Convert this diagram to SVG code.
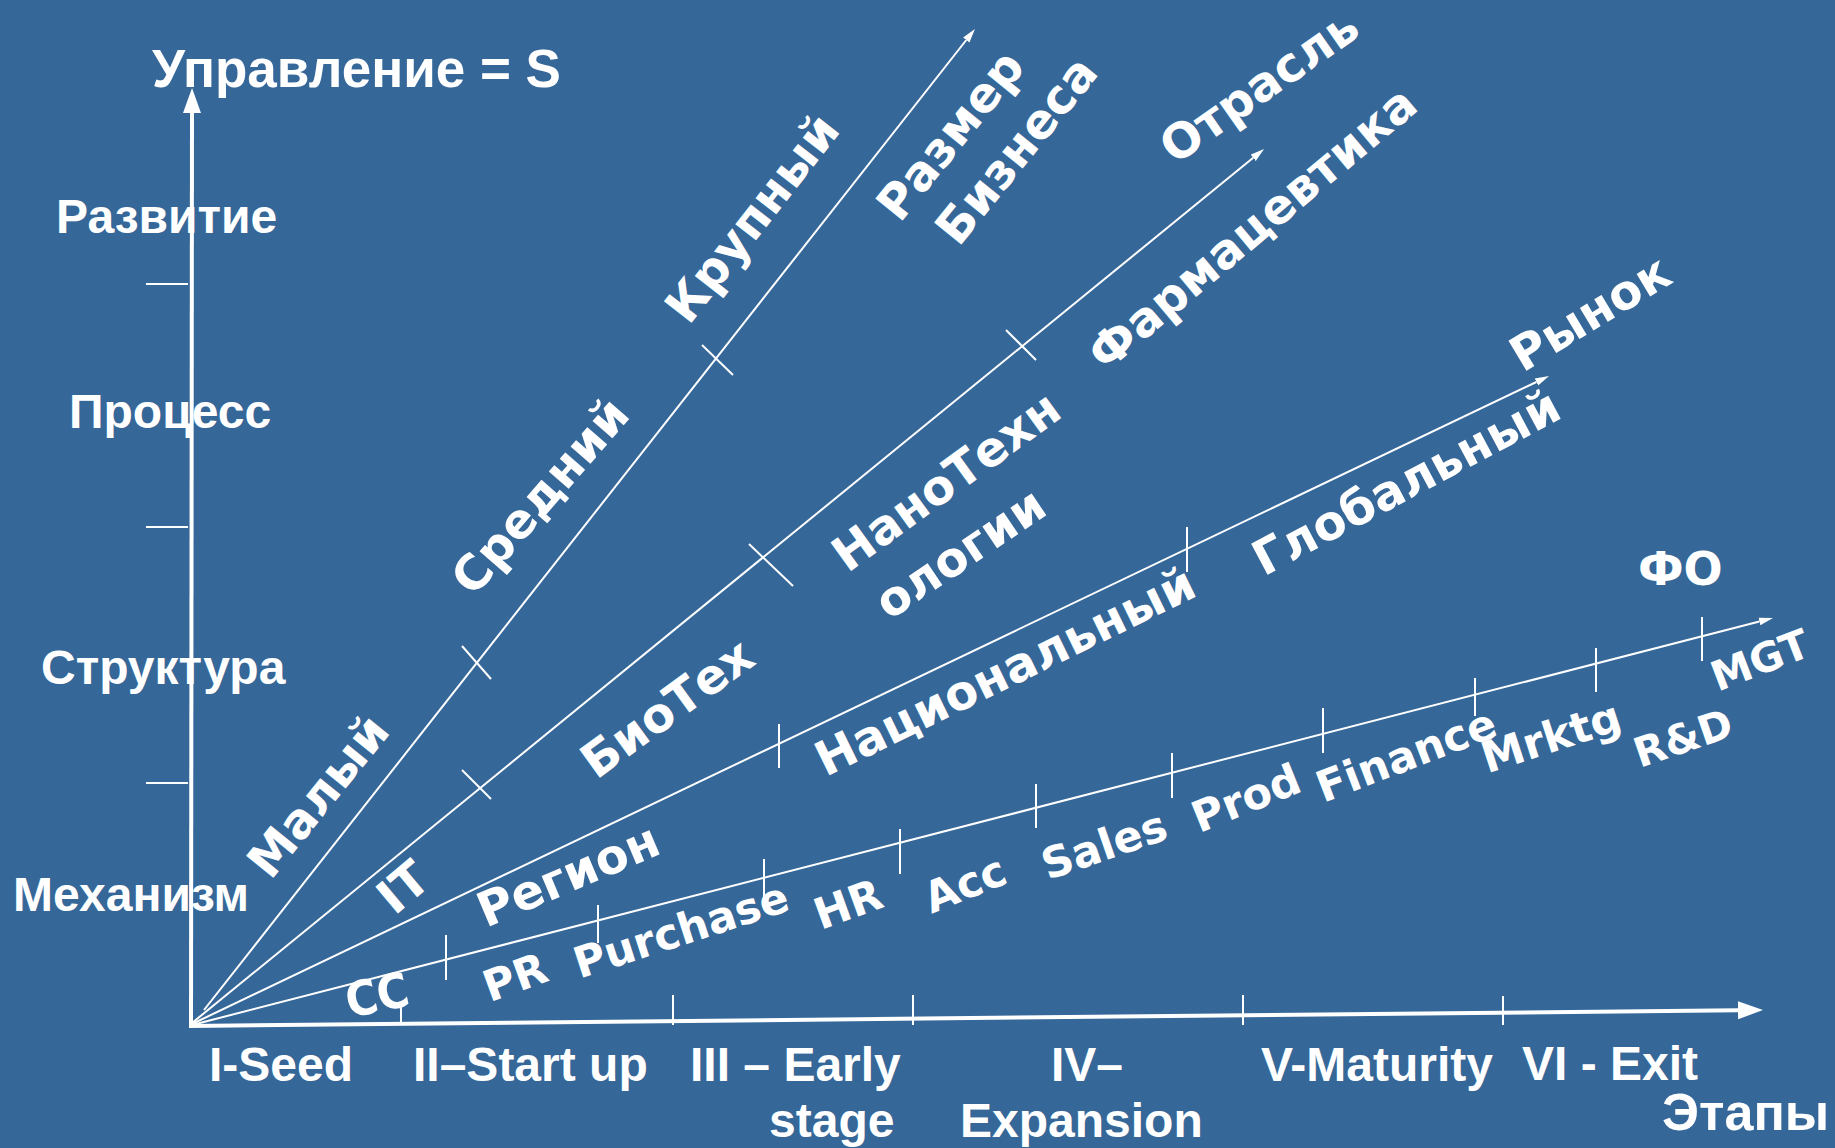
<svg xmlns="http://www.w3.org/2000/svg" width="1835" height="1148" viewBox="0 0 1835 1148">
<defs>
<marker id="bigArrow" viewBox="0 -10 26 20" refX="0" refY="0" markerWidth="26" markerHeight="20" markerUnits="userSpaceOnUse" orient="auto"><path d="M0,-9 L25,0 L0,9 z" fill="#fff"/></marker>
<marker id="smallArrow" viewBox="0 -5 15 10" refX="0" refY="0" markerWidth="15" markerHeight="10" markerUnits="userSpaceOnUse" orient="auto"><path d="M0,-4 L14,0 L0,4 z" fill="#fff"/></marker>
</defs>
<style>
.ax{font-family:"Liberation Sans",Arial,sans-serif;font-weight:bold;fill:#fff;font-size:48px}
.lb{font-family:"DejaVu Sans",Verdana,sans-serif;font-weight:bold;fill:#fff;font-size:48px;text-anchor:middle}
.fn{font-family:"DejaVu Sans",Verdana,sans-serif;font-weight:bold;fill:#fff;font-size:43px;text-anchor:middle}
.axis{stroke:#fff;stroke-width:4;fill:none}
.ray{stroke:#fff;stroke-width:2;fill:none}
.tick{stroke:#fff;stroke-width:2}
</style>
<rect x="0" y="0" width="1835" height="1148" fill="#356799"/>
<g id="connectors">
<line class="axis" x1="191" y1="1026" x2="192" y2="113" marker-end="url(#bigArrow)"/>
<line class="axis" x1="189" y1="1026" x2="1738" y2="1010.3" marker-end="url(#bigArrow)"/>
<line class="ray" x1="204" y1="1010" x2="966.3" y2="40" marker-end="url(#smallArrow)"/>
<line class="ray" x1="192" y1="1023" x2="1253.2" y2="157.8" marker-end="url(#smallArrow)"/>
<line class="ray" x1="192" y1="1024" x2="1536.4" y2="382" marker-end="url(#smallArrow)"/>
<line class="ray" x1="192" y1="1025" x2="1759.4" y2="621.5" marker-end="url(#smallArrow)"/>
<g id="ticks">
<line class="tick" x1="146" y1="284" x2="188" y2="284"/>
<line class="tick" x1="146" y1="527" x2="188" y2="527"/>
<line class="tick" x1="146" y1="783" x2="188" y2="783"/>
<line class="tick" x1="401" y1="1002" x2="401" y2="1025"/>
<line class="tick" x1="673" y1="995" x2="673" y2="1025"/>
<line class="tick" x1="913" y1="995" x2="913" y2="1025"/>
<line class="tick" x1="1243" y1="995" x2="1243" y2="1025"/>
<line class="tick" x1="1503" y1="996" x2="1503" y2="1025"/>
<line class="tick" x1="462" y1="646" x2="491" y2="679"/>
<line class="tick" x1="702" y1="345" x2="733" y2="375"/>
<line class="tick" x1="462" y1="770" x2="491" y2="799"/>
<line class="tick" x1="749" y1="544" x2="793" y2="586"/>
<line class="tick" x1="1006" y1="330" x2="1036" y2="360"/>
<line class="tick" x1="779" y1="724" x2="779" y2="768"/>
<line class="tick" x1="1187" y1="527" x2="1187" y2="572"/>
<line class="tick" x1="446" y1="935" x2="446" y2="980"/>
<line class="tick" x1="598" y1="905" x2="598" y2="943"/>
<line class="tick" x1="764" y1="859" x2="764" y2="897"/>
<line class="tick" x1="900" y1="829" x2="900" y2="874"/>
<line class="tick" x1="1036" y1="784" x2="1036" y2="828"/>
<line class="tick" x1="1172" y1="753" x2="1172" y2="798"/>
<line class="tick" x1="1323" y1="708" x2="1323" y2="753"/>
<line class="tick" x1="1475" y1="678" x2="1475" y2="716"/>
<line class="tick" x1="1596" y1="648" x2="1596" y2="692"/>
<line class="tick" x1="1702" y1="617" x2="1702" y2="661"/>
</g>
</g>
<g id="y-axis-labels">
<text class="ax" x="152" y="87" style="font-size:53px">Управление = S</text>
<text class="ax" x="56" y="233">Развитие</text>
<text class="ax" x="69" y="428">Процесс</text>
<text class="ax" x="41" y="684">Структура</text>
<text class="ax" x="13" y="911">Механизм</text>
</g>
<g id="x-axis-labels">
<text class="ax" x="209" y="1081">I-Seed</text>
<text class="ax" x="413" y="1081">II–Start up</text>
<text class="ax" x="690" y="1081">III – Early</text>
<text class="ax" x="769" y="1137">stage</text>
<text class="ax" x="1051" y="1081">IV–</text>
<text class="ax" x="960" y="1137">Expansion</text>
<text class="ax" x="1261" y="1081">V-Maturity</text>
<text class="ax" x="1522" y="1080">VI - Exit</text>
<text class="ax" x="1662" y="1130" style="font-size:52px">Этапы</text>
</g>
<g id="size-labels">
<text class="lb" transform="translate(318,796) rotate(-51)" dy="0.35em">Малый</text>
<text class="lb" transform="translate(540,496) rotate(-49)" dy="0.35em">Средний</text>
<text class="lb" transform="translate(752,218) rotate(-52)" dy="0.35em">Крупный</text>
<text class="lb" transform="translate(950,135) rotate(-51)" dy="0.35em">Размер</text>
<text class="lb" transform="translate(1016,150) rotate(-51)" dy="0.35em">Бизнеса</text>
</g>
<g id="industry-labels">
<text class="lb" transform="translate(403,887) rotate(-40)" dy="0.35em">IT</text>
<text class="lb" transform="translate(667,708) rotate(-36)" dy="0.35em">БиоТех</text>
<text class="lb" transform="translate(946,481) rotate(-36)" dy="0.35em">НаноТехн</text>
<text class="lb" transform="translate(960,553) rotate(-34)" dy="0.35em">ологии</text>
<text class="lb" transform="translate(1252,228) rotate(-40)" dy="0.35em">Фармацевтика</text>
<text class="lb" transform="translate(1259,86) rotate(-35)" dy="0.35em">Отрасль</text>
</g>
<g id="market-labels">
<text class="lb" transform="translate(568,875) rotate(-23)" dy="0.35em">Регион</text>
<text class="lb" transform="translate(1005,671) rotate(-26)" dy="0.35em">Национальный</text>
<text class="lb" transform="translate(1406,482) rotate(-28)" dy="0.35em">Глобальный</text>
<text class="lb" transform="translate(1590,313) rotate(-31)" dy="0.35em">Рынок</text>
</g>
<g id="function-labels">
<text class="fn" transform="translate(377,995) rotate(-12)" dy="0.35em" style="font-family:'DejaVu Sans Condensed','DejaVu Sans',sans-serif;font-size:48px">CC</text>
<text class="fn" transform="translate(515,977) rotate(-20)" dy="0.35em">PR</text>
<text class="fn" transform="translate(681,930) rotate(-18)" dy="0.35em">Purchase</text>
<text class="fn" transform="translate(848,904) rotate(-20)" dy="0.35em">HR</text>
<text class="fn" transform="translate(965,884) rotate(-22)" dy="0.35em">Acc</text>
<text class="fn" transform="translate(1104,845) rotate(-19)" dy="0.35em">Sales</text>
<text class="fn" transform="translate(1246,798) rotate(-22)" dy="0.35em">Prod</text>
<text class="fn" transform="translate(1406,755) rotate(-21)" dy="0.35em">Finance</text>
<text class="fn" transform="translate(1551,737) rotate(-18)" dy="0.35em">Mrktg</text>
<text class="fn" transform="translate(1760,660) rotate(-21)" dy="0.35em" style="font-size:41px">MGT</text>
<text class="fn" transform="translate(1683,738) rotate(-19)" dy="0.35em" style="font-size:41px">R&amp;D</text>
<text class="fn" x="1638" y="585" style="font-size:46px;text-anchor:start">ФО</text>
</g>
</svg>
